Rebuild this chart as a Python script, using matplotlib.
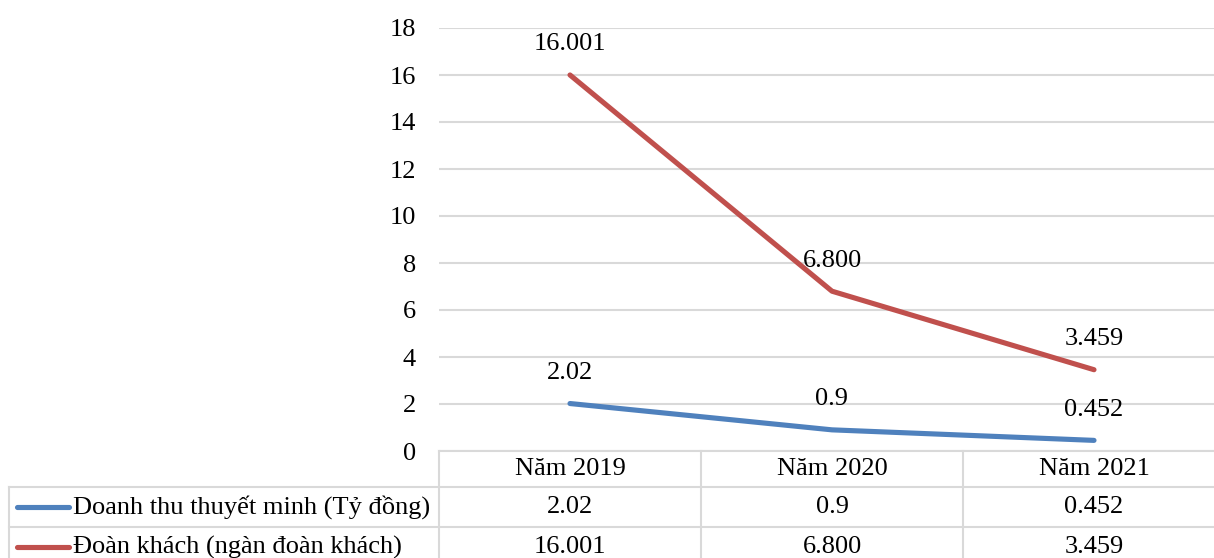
import matplotlib.pyplot as plt
from matplotlib.lines import Line2D

plt.rcParams['font.family'] = ['Liberation Serif', 'DejaVu Serif']

years = ["Năm 2019", "Năm 2020", "Năm 2021"]
series_names = ["Doanh thu thuyết minh (Tỷ đồng)", "Đoàn khách (ngàn đoàn khách)"]
doanh_thu = [2.02, 0.9, 0.452]
doan_khach = [16.001, 6.800, 3.459]
doanh_thu_labels = ["2.02", "0.9", "0.452"]
doan_khach_labels = ["16.001", "6.800", "3.459"]
colors = ["#4F81BD", "#C0504D"]
grid_color = "#D9D9D9"
FS = 19

W, H = 1214, 558
fig = plt.figure(figsize=(W / 100, H / 100), dpi=100)

def fx(px):
    return px / W

def fy(py):
    return 1 - py / H

# plot area (extends a bit past the right edge, cropped like the original)
left, right, top, bottom = 439, 1225, 28, 451
ax = fig.add_axes([fx(left), fy(bottom), fx(right - left), (bottom - top) / H])
x = range(len(years))
series = [doanh_thu, doan_khach]
labels = [doanh_thu_labels, doan_khach_labels]
for vals, lab, c in zip(series, labels, colors):
    ax.plot(x, vals, color=c, lw=3.7, solid_capstyle='round', zorder=3)
    for xi, v, t in zip(x, vals, lab):
        ax.annotate(t, (xi, v), xytext=(0, 22), textcoords='offset points',
                    ha='center', va='center', fontsize=FS, color='black')

ax.set_xlim(-0.5, len(years) - 0.5)
ax.set_ylim(0, 18)
ax.set_yticks(range(0, 19, 2))
ax.set_xticks([])
ax.tick_params(axis='y', length=0, pad=16.5, labelsize=FS)
ax.yaxis.grid(True, color=grid_color, lw=1.5)
ax.set_axisbelow(True)
for s in ax.spines.values():
    s.set_visible(False)

# data table underneath
row_y = [451, 487, 527, 567]
col_x = [left + 262 * i for i in range(4)]
lw = 1.5

def hline(y, x0, x1):
    fig.add_artist(Line2D([fx(x0), fx(x1)], [fy(y), fy(y)], color=grid_color, lw=lw))

def vline(x0, y0, y1):
    fig.add_artist(Line2D([fx(x0), fx(x0)], [fy(y0), fy(y1)], color=grid_color, lw=lw))

hline(row_y[0], left, W)
for y in row_y[1:]:
    hline(y, 9, W)
vline(9, row_y[1], row_y[3])
for cx in col_x[:3]:
    vline(cx, row_y[0], row_y[3])

for i, yr in enumerate(years):
    cx = (col_x[i] + col_x[i + 1]) / 2
    fig.text(fx(cx), fy((row_y[0] + row_y[1]) / 2), yr, ha='center', va='center', fontsize=FS)
    for r, lab in enumerate(labels):
        cy = (row_y[r + 1] + row_y[r + 2]) / 2
        fig.text(fx(cx), fy(cy), lab[i], ha='center', va='center', fontsize=FS)

for r, (name, c) in enumerate(zip(series_names, colors)):
    cy = (row_y[r + 1] + row_y[r + 2]) / 2
    fig.add_artist(Line2D([fx(17), fx(69)], [fy(cy), fy(cy)], color=c, lw=3.7,
                          solid_capstyle='round'))
    fig.text(fx(73), fy(cy), name, ha='left', va='center', fontsize=FS)

fig.savefig("out.png", dpi=100)
